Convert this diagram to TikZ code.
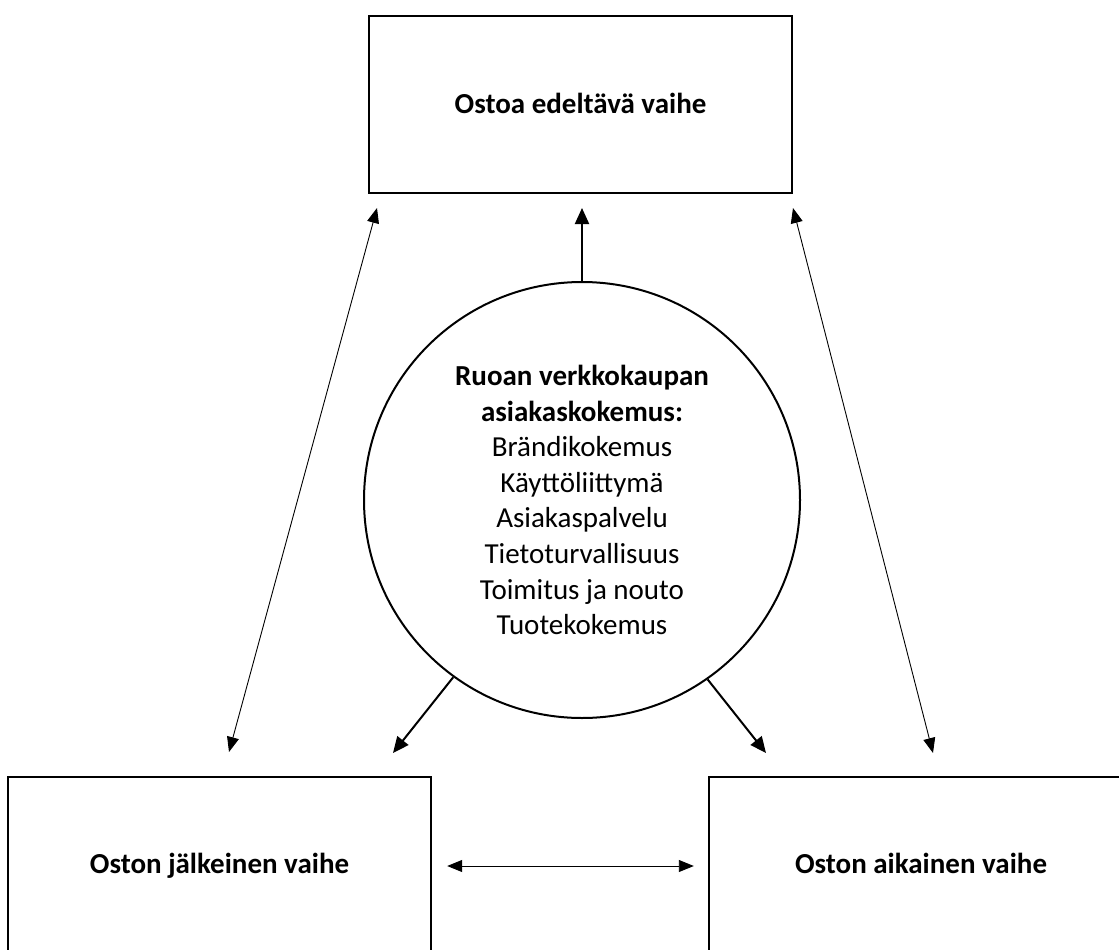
\documentclass[tikz,border=0pt]{standalone}
\usepackage{fontspec}
\setmainfont{Carlito}
\usetikzlibrary{arrows.meta,calc}
\begin{document}
\begin{tikzpicture}[x=1pt,y=1pt,
  box/.style={draw,line width=2.4pt,inner sep=0pt,text height=22pt,text depth=4pt,font=\fontsize{29}{35.6}\selectfont\bfseries},
  hub/.style={circle,draw,line width=2pt,inner sep=0pt,minimum size=436pt,align=center,font=\fontsize{29}{35.6}\selectfont},
  thinarrow/.style={line width=0.9pt,{Triangle[length=15pt,width=12pt]}-{Triangle[length=15pt,width=12pt]}},
  thickarrow/.style={line width=2pt,-{Triangle[length=16pt,width=14pt]}}]
\useasboundingbox (0,0) rectangle (1119,-950);
\clip (0,0) rectangle (1119,-950);
\node[box, minimum width=423pt, minimum height=177pt] (pre) at (580.5,-104.5) {Ostoa edeltävä vaihe};
\node[box, minimum width=423pt, minimum height=174pt] (post) at (219.5,-864) {Oston jälkeinen vaihe};
\node[box, minimum width=424pt, minimum height=174pt] (during) at (921,-864) {Oston aikainen vaihe};
\node[hub] (cx) at (582,-500) {\textbf{Ruoan verkkokaupan}\\\textbf{asiakaskokemus:}\\Brändikokemus\\Käyttöliittymä\\Asiakaspalvelu\\Tietoturvallisuus\\Toimitus ja nouto\\Tuotekokemus};
\coordinate (pl) at (377,-208);
\coordinate (ql) at (229,-752);
\coordinate (pr) at (793,-208);
\coordinate (qr) at (933,-753);
\coordinate (pm) at (582,-208);
\coordinate (cl) at (393,-753);
\coordinate (cr) at (766,-753);
\draw[thinarrow] (pl) -- (ql);
\draw[thinarrow] (pr) -- (qr);
\draw[thickarrow] (cx.north) -- (pm);
\draw[thickarrow] (cx.234) -- (cl);
\draw[thickarrow] (cx.305) -- (cr);
\draw[thinarrow,shorten <=15pt,shorten >=14pt] ([yshift=-2pt]post.east) -- ([yshift=-2pt]during.west);
\end{tikzpicture}
\end{document}
